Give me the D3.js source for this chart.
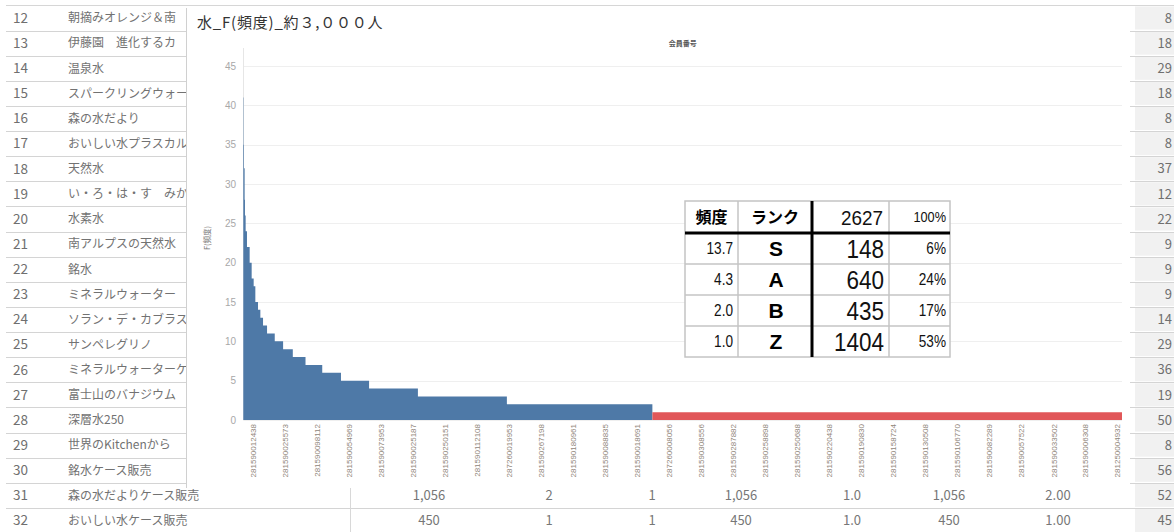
<!DOCTYPE html>
<html>
<head>
<meta charset="utf-8">
<script src="https://cdn.jsdelivr.net/npm/d3@7"></script>
<style>
  html, body { margin: 0; padding: 0; background: #fff; }
  svg { display: block; }
</style>
</head>
<body>
<svg id="c" width="1174" height="532"></svg>
<script>
// ---- spreadsheet rows around the chart ----
const rowNumbers = [12,13,14,15,16,17,18,19,20,21,22,23,24,25,26,27,28,29,30,31,32];
const rowNames = [
  "朝摘みオレンジ＆南", "伊藤園　進化するカ", "温泉水", "スパークリングウォーター",
  "森の水だより", "おいしい水プラスカルピス", "天然水", "い・ろ・は・す　みかん",
  "水素水", "南アルプスの天然水", "銘水", "ミネラルウォーター",
  "ソラン・デ・カブラス", "サンペレグリノ", "ミネラルウォーターケース", "富士山のバナジウム",
  "深層水250", "世界のKitchenから", "銘水ケース販売", "森の水だよりケース販売",
  "おいしい水ケース販売"
];
const rightColumn = ["8","18","29","18","8","8","37","12","22","9","9","9","14","29","36","19","50","8","56","52","45"];
const footRows = [
  ["1,056", "2", "1", "1,056", "1.0", "1,056", "2.00"],
  ["450", "1", "1", "450", "1.0", "450", "1.00"]
];

// ---- frequency distribution of members (sorted by frequency) ----
const freqLevels   = [41, 35, 32, 28, 26, 24, 22, 20, 18, 17, 15, 14, 13, 12, 11, 10, 9, 8, 7, 6, 5, 4, 3, 2, 1];
const memberCounts = [ 1,  1,  2,  1,  2,  4,  8,  6,  6,  5,  8,  7,  8, 12, 23, 25, 29, 38, 50, 56, 84, 146, 266, 435, 1404];
const yTicks = [0, 5, 10, 15, 20, 25, 30, 35, 40, 45];
const memberIdLabels = [
  "281590012438", "281590025573", "281590098112", "281590054969", "281590073953",
  "281590025187", "281590250151", "281590112108", "287260019953", "281590267198",
  "281590180961", "281590088835", "281590018691", "287260008056", "281590308556",
  "281590287882", "281590258898", "281590250688", "281590220438", "281590190830",
  "281590158724", "281590130508", "281590106770", "281590082289", "281590057522",
  "281590033502", "281590006308", "281250004932"
];
const labelFirstRank = 30, labelRankStep = 95.7;

// ---- rank summary ----
const rankNames   = ["S", "A", "B", "Z"];
const rankAvgFreq = ["13.7", "4.3", "2.0", "1.0"];
const rankCounts  = [148, 640, 435, 1404];

const svg = d3.select("#c");
const sheetFont = "'Noto Sans CJK JP', 'Noto Sans', sans-serif";
const sans = "'Liberation Sans', Arial, sans-serif";

// ================= spreadsheet background =================
const sheet = svg.append("g");
const rowY = d3.scaleLinear().domain([12, 32]).range([18, 520.5]);
const rowH = 25.1;

sheet.append("line").attr("x1", 6).attr("x2", 1174).attr("y1", 5.5).attr("y2", 5.5)
  .attr("stroke", "#d6d6d6");

// grey cells of the right-hand column
sheet.selectAll("rect.rc").data(rowNumbers).join("rect")
  .attr("x", 1135).attr("width", 39)
  .attr("y", d => rowY(d) - rowH / 2 + 1).attr("height", rowH - 2)
  .attr("fill", "#f1f1f1");

sheet.selectAll("line.sep").data(rowNumbers).join("line")
  .attr("x1", 6).attr("x2", 1174)
  .attr("y1", d => Math.round(rowY(d) + rowH / 2) + 0.5).attr("y2", d => Math.round(rowY(d) + rowH / 2) + 0.5)
  .attr("stroke", "#d4d4d4");

sheet.append("line").attr("x1", 350.5).attr("x2", 350.5).attr("y1", rowY(31) - 12).attr("y2", 532)
  .attr("stroke", "#d8d8d8");

sheet.selectAll("text.num").data(rowNumbers).join("text")
  .attr("x", 13).attr("y", d => rowY(d)).attr("dy", "0.36em")
  .attr("font-family", sheetFont).attr("font-size", 13.5).attr("fill", "#6f6f6f")
  .text(d => d);

sheet.selectAll("text.name").data(rowNames).join("text")
  .attr("x", 68).attr("y", (d, i) => rowY(rowNumbers[i])).attr("dy", "0.36em")
  .attr("font-family", sheetFont).attr("font-size", 12).attr("fill", "#727272")
  .text(d => d);

sheet.selectAll("text.rcol").data(rightColumn).join("text")
  .attr("x", 1172).attr("y", (d, i) => rowY(rowNumbers[i])).attr("dy", "0.36em")
  .attr("text-anchor", "end")
  .attr("font-family", sheetFont).attr("font-size", 13).attr("fill", "#6f6f6f")
  .text(d => d);

const footColX = [429, 549, 652, 741, 852, 949, 1058];
footRows.forEach((vals, r) => {
  sheet.selectAll(null).data(vals).join("text")
    .attr("x", (d, i) => footColX[i]).attr("y", rowY(31 + r)).attr("dy", "0.36em")
    .attr("text-anchor", "middle")
    .attr("font-family", sheetFont).attr("font-size", 13).attr("fill", "#777")
    .text(d => d);
});

// ================= chart panel =================
const panel = { x: 187, y: 8, w: 943, h: 480 };
svg.append("rect").attr("x", panel.x).attr("y", panel.y).attr("width", panel.w).attr("height", panel.h)
  .attr("fill", "#fff");
svg.append("line").attr("x1", panel.x - 0.5).attr("x2", panel.x - 0.5)
  .attr("y1", panel.y).attr("y2", panel.y + panel.h).attr("stroke", "#d0d0d0");

svg.append("text").attr("x", 197).attr("y", 28)
  .attr("font-family", sheetFont).attr("font-size", 15).attr("fill", "#333")
  .attr("letter-spacing", "0.8px")
  .text("水_F(頻度)_約３,０００人");

const totalMembers = d3.sum(memberCounts);
const x = d3.scaleLinear().domain([0, totalMembers]).range([243.3, 1122]);
const y = d3.scaleLinear().domain([0, 45]).range([420, 66]);

svg.append("text").attr("x", (x.range()[0] + x.range()[1]) / 2).attr("y", 46)
  .attr("text-anchor", "middle")
  .attr("font-family", sheetFont).attr("font-size", 7).attr("font-weight", "bold").attr("fill", "#555")
  .text("会員番号");

// gridlines
svg.append("g").selectAll("line").data(yTicks).join("line")
  .attr("x1", x.range()[0]).attr("x2", x.range()[1])
  .attr("y1", d => Math.round(y(d)) + 0.5).attr("y2", d => Math.round(y(d)) + 0.5)
  .attr("stroke", "#efefef");
svg.append("line").attr("x1", 243.5).attr("x2", 243.5).attr("y1", 48).attr("y2", 420)
  .attr("stroke", "#e6e6e6");

// y axis labels
const yAxis = svg.append("g").attr("transform", "translate(236,0)")
  .call(d3.axisLeft(y).tickValues(yTicks).tickSize(0).tickPadding(0));
yAxis.select(".domain").remove();
yAxis.selectAll("text").attr("font-family", sans)
  .attr("font-size", 10).attr("fill", "#a8a8a8");

svg.append("text").attr("transform", "translate(207,238) rotate(-90)")
  .attr("text-anchor", "middle").attr("dy", "0.35em")
  .attr("font-family", sheetFont).attr("font-size", 7.5).attr("fill", "#777")
  .text("F(頻度)");

// frequency steps: one step per frequency level, drawn as a stepped area
const starts = [0, ...d3.cumsum(memberCounts)].slice(0, memberCounts.length);
const steps = freqLevels.map((f, i) => ({ f, start: starts[i], end: starts[i] + memberCounts[i] }));
const stepArea = d3.area()
  .curve(d3.curveStepAfter)
  .x(d => x(d.pos)).y0(y(0)).y1(d => y(d.f));
function stepPoints(group) {
  const pts = group.map(s => ({ pos: s.start, f: s.f }));
  const last = group[group.length - 1];
  pts.push({ pos: last.end, f: last.f });
  return pts;
}
const repeatSteps = steps.filter(s => s.f > 1);
const singleSteps = steps.filter(s => s.f === 1);
svg.append("path").attr("d", stepArea(stepPoints(repeatSteps))).attr("fill", "#4e79a7");
svg.append("path").attr("d", stepArea(stepPoints(singleSteps))).attr("fill", "#e15759");

// member id labels
svg.append("g").selectAll("text").data(memberIdLabels).join("text")
  .attr("transform", (d, i) => `translate(${x(Math.round(labelFirstRank + i * labelRankStep))},424) rotate(-90)`)
  .attr("text-anchor", "end").attr("dy", "0.35em")
  .attr("font-family", sans).attr("font-size", 8)
  .attr("fill", "#8f8579")
  .text(d => d);

// ================= rank summary table =================
const tbl = svg.append("g");
const colX = [685, 738, 812, 889, 950];
const rowTop = [201, 233, 264, 295, 326, 357];
const total = d3.sum(rankCounts);
const pct = d3.format(".0%");

tbl.append("rect").attr("x", colX[0]).attr("y", rowTop[0])
  .attr("width", colX[4] - colX[0]).attr("height", rowTop[5] - rowTop[0])
  .attr("fill", "#fff").attr("stroke", "#c4c4c4").attr("stroke-width", 1.5);
tbl.selectAll("line.h").data(rowTop.slice(2, 5)).join("line")
  .attr("x1", colX[0]).attr("x2", colX[4]).attr("y1", d => d).attr("y2", d => d)
  .attr("stroke", "#c4c4c4").attr("stroke-width", 1.5);
tbl.selectAll("line.v").data([colX[1], colX[3]]).join("line")
  .attr("x1", d => d).attr("x2", d => d).attr("y1", rowTop[0]).attr("y2", rowTop[5])
  .attr("stroke", "#c4c4c4").attr("stroke-width", 1.5);
tbl.append("line").attr("x1", colX[0]).attr("x2", colX[4]).attr("y1", rowTop[1]).attr("y2", rowTop[1])
  .attr("stroke", "#000").attr("stroke-width", 3);
tbl.append("line").attr("x1", colX[2]).attr("x2", colX[2]).attr("y1", rowTop[0]).attr("y2", rowTop[5])
  .attr("stroke", "#000").attr("stroke-width", 3);

// right-aligned narrow figure: horizontally condensed text anchored at its right edge
function narrowText(g, xr, cy, size, txt, sx) {
  g.append("text")
    .attr("transform", `translate(${xr},${cy}) scale(${sx},1)`)
    .attr("dy", "0.36em").attr("text-anchor", "end")
    .attr("font-family", sans).attr("font-size", size).attr("fill", "#111")
    .text(txt);
}

const hy = (rowTop[0] + rowTop[1]) / 2;
tbl.append("text").attr("x", (colX[0] + colX[1]) / 2).attr("y", hy).attr("dy", "0.36em")
  .attr("text-anchor", "middle").attr("font-family", sheetFont).attr("font-size", 16).attr("font-weight", "bold")
  .text("頻度");
tbl.append("text").attr("x", (colX[1] + colX[2]) / 2).attr("y", hy).attr("dy", "0.36em")
  .attr("text-anchor", "middle").attr("font-family", sheetFont).attr("font-size", 16).attr("font-weight", "bold")
  .text("ランク");
narrowText(tbl, colX[3] - 6, hy, 21, total, 0.9);
narrowText(tbl, colX[4] - 4, hy, 15, pct(1), 0.85);

rankNames.forEach((r, i) => {
  const cy = (rowTop[i + 1] + rowTop[i + 2]) / 2;
  narrowText(tbl, colX[1] - 5, cy, 16, rankAvgFreq[i], 0.85);
  tbl.append("text").attr("x", (colX[1] + colX[2]) / 2 + 1).attr("y", cy).attr("dy", "0.36em")
    .attr("text-anchor", "middle").attr("font-family", sans)
    .attr("font-size", 21).attr("font-weight", "bold")
    .text(r);
  narrowText(tbl, colX[3] - 5, cy, 25, rankCounts[i], 0.9);
  narrowText(tbl, colX[4] - 4, cy, 16, pct(rankCounts[i] / total), 0.85);
});
</script>
</body>
</html>
